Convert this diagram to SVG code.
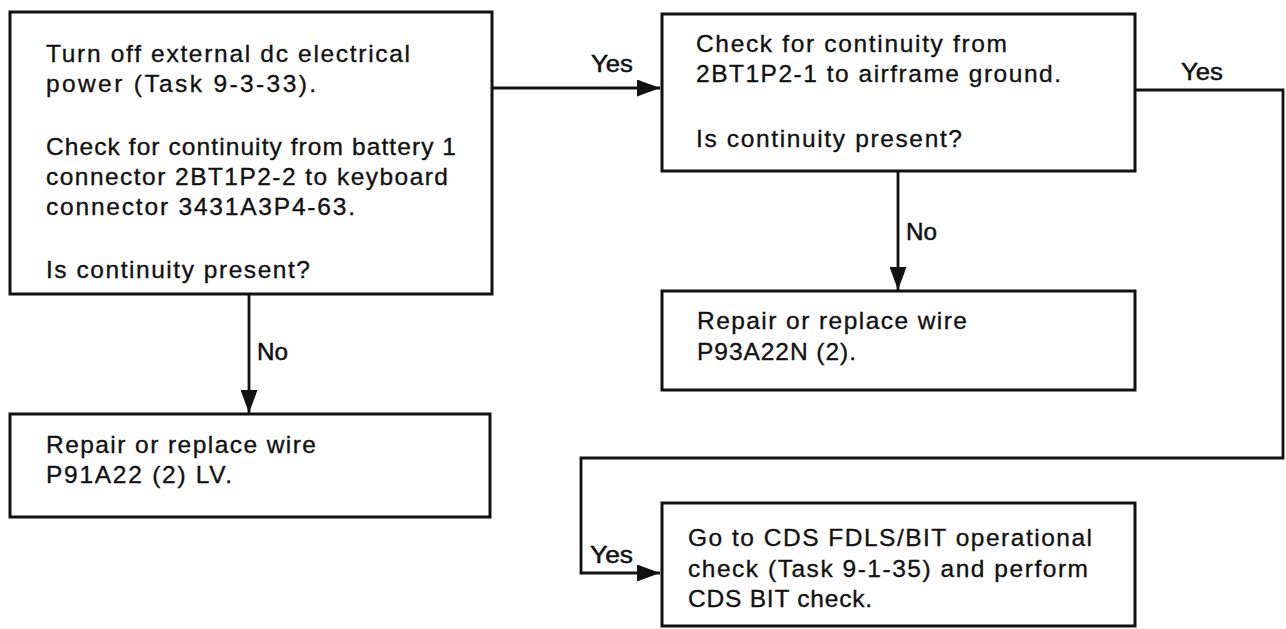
<svg xmlns="http://www.w3.org/2000/svg" width="1286" height="629" viewBox="0 0 1286 629">
<style>
  .box { fill: #ffffff; stroke: #111111; stroke-width: 3; }
  .t { font-family: "Liberation Sans", Arial, sans-serif; font-size: 24.5px; fill: #111111; stroke: #111111; stroke-width: 0.35; }
  .lbl { font-family: "Liberation Sans", Arial, sans-serif; font-size: 24px; fill: #111111; stroke: #111111; stroke-width: 0.5; }
  .conn { fill: none; stroke: #111111; stroke-width: 2.8; }
</style>
<defs>
  <marker id="arrow" markerUnits="userSpaceOnUse" markerWidth="23" markerHeight="17" refX="23" refY="8.5" orient="auto">
    <path d="M0,0 L23,8.5 L0,17 z" fill="#111111"/>
  </marker>
</defs>
<rect width="1286" height="629" fill="#ffffff"/>

<g id="connectors">
  <path class="conn" d="M492,88 H660" marker-end="url(#arrow)"/>
  <path class="conn" d="M1135,90 H1283 V458 H581 V573 H660" marker-end="url(#arrow)"/>
  <path class="conn" d="M898,171 V290" marker-end="url(#arrow)"/>
  <path class="conn" d="M249,294 V413" marker-end="url(#arrow)"/>
  <text class="lbl" x="591" y="72" textLength="42" lengthAdjust="spacingAndGlyphs">Yes</text>
  <text class="lbl" x="1181" y="80" textLength="42" lengthAdjust="spacingAndGlyphs">Yes</text>
  <text class="lbl" x="906" y="240" textLength="31" lengthAdjust="spacingAndGlyphs">No</text>
  <text class="lbl" x="257" y="360" textLength="31" lengthAdjust="spacingAndGlyphs">No</text>
  <text class="lbl" x="590" y="563" textLength="43" lengthAdjust="spacingAndGlyphs">Yes</text>
</g>

<g id="node-turn-off">
  <rect class="box" x="10" y="12" width="482" height="282"/>
  <text class="t" x="46" y="62" textLength="364" lengthAdjust="spacing">Turn off external dc electrical</text>
  <text class="t" x="46" y="92" textLength="270" lengthAdjust="spacing">power (Task 9-3-33).</text>
  <text class="t" x="46" y="155" textLength="410" lengthAdjust="spacing">Check for continuity from battery 1</text>
  <text class="t" x="46" y="185" textLength="402" lengthAdjust="spacing">connector 2BT1P2-2 to keyboard</text>
  <text class="t" x="46" y="215" textLength="309" lengthAdjust="spacing">connector 3431A3P4-63.</text>
  <text class="t" x="46" y="278" textLength="264" lengthAdjust="spacing">Is continuity present?</text>
</g>

<g id="node-check-ground">
  <rect class="box" x="662" y="14" width="473" height="157"/>
  <text class="t" x="696" y="52" textLength="311" lengthAdjust="spacing">Check for continuity from</text>
  <text class="t" x="696" y="82" textLength="365" lengthAdjust="spacing">2BT1P2-1 to airframe ground.</text>
  <text class="t" x="696" y="147" textLength="266" lengthAdjust="spacing">Is continuity present?</text>
</g>

<g id="node-repair-p93">
  <rect class="box" x="662" y="291" width="473" height="99"/>
  <text class="t" x="697" y="329" textLength="270" lengthAdjust="spacing">Repair or replace wire</text>
  <text class="t" x="697" y="360" textLength="159" lengthAdjust="spacing">P93A22N (2).</text>
</g>

<g id="node-repair-p91">
  <rect class="box" x="10" y="414" width="480" height="103"/>
  <text class="t" x="46" y="453" textLength="270" lengthAdjust="spacing">Repair or replace wire</text>
  <text class="t" x="46" y="483" textLength="186" lengthAdjust="spacing">P91A22 (2) LV.</text>
</g>

<g id="node-cds-bit">
  <rect class="box" x="662" y="503" width="473" height="123"/>
  <text class="t" x="688" y="546" textLength="404" lengthAdjust="spacing">Go to CDS FDLS/BIT operational</text>
  <text class="t" x="688" y="577" textLength="400" lengthAdjust="spacing">check (Task 9-1-35) and perform</text>
  <text class="t" x="688" y="607" textLength="184" lengthAdjust="spacing">CDS BIT check.</text>
</g>
</svg>
